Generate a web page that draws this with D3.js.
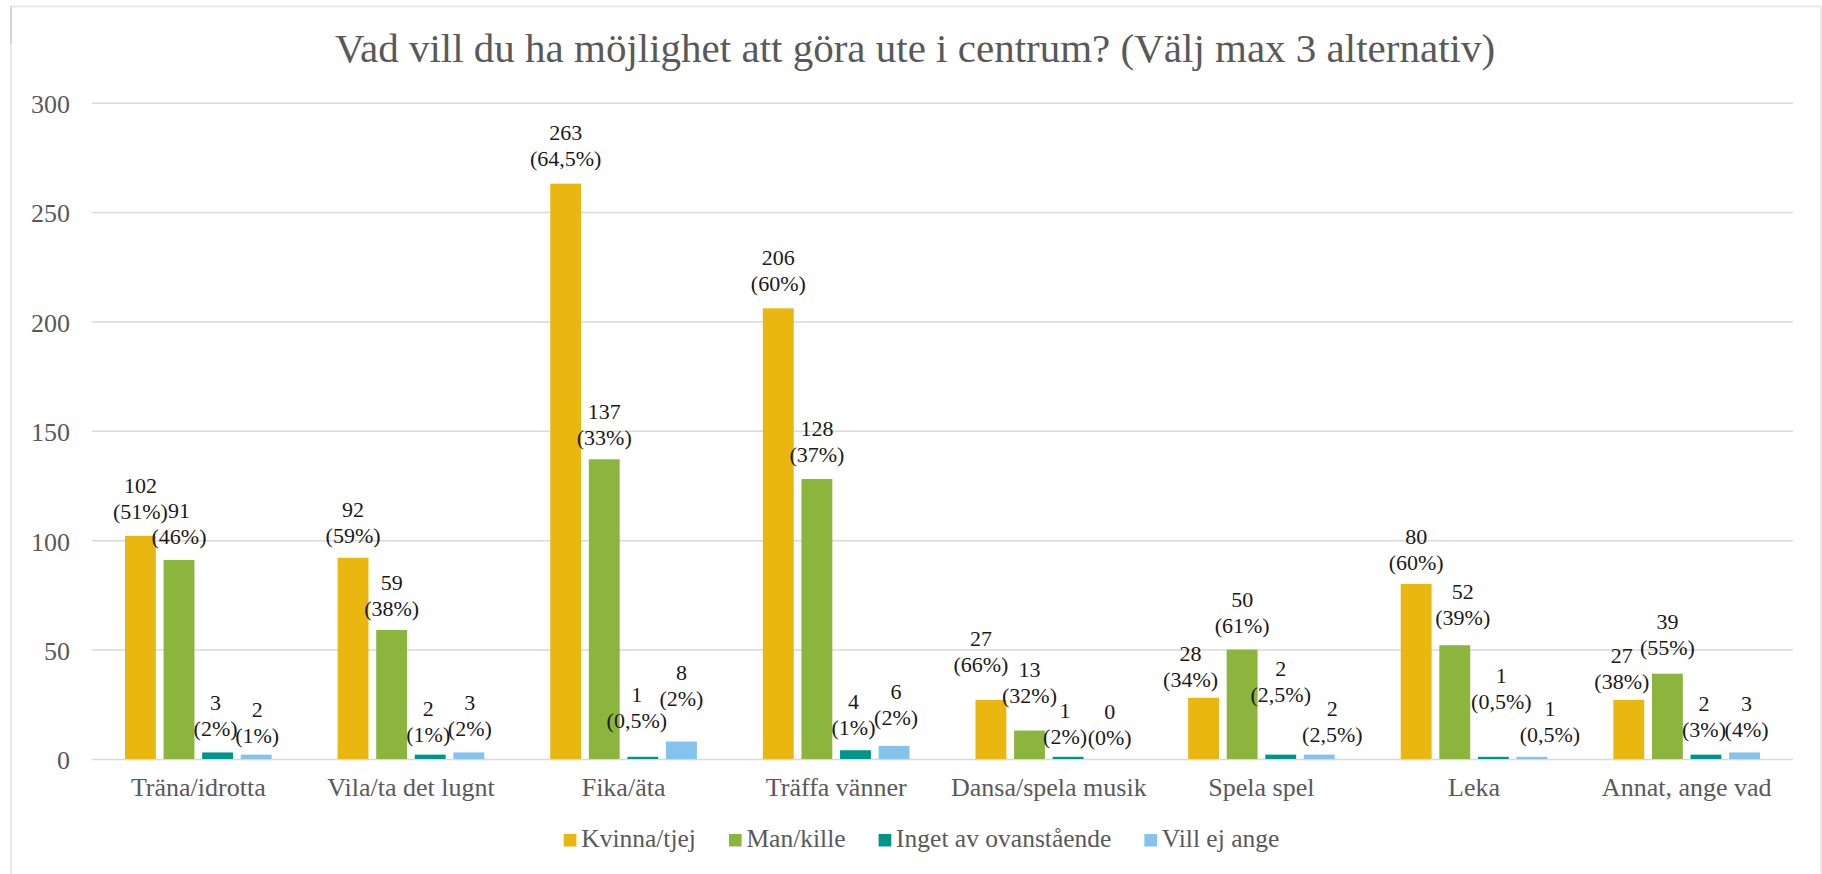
<!DOCTYPE html>
<html>
<head>
<meta charset="utf-8">
<script src="https://cdn.jsdelivr.net/npm/d3@7"></script>
<style>
  body { margin: 0; background: #fff; }
  svg { display: block; font-family: "Liberation Serif", "Times New Roman", serif; }
</style>
</head>
<body>
<div id="chart"></div>
<script>
const title = "Vad vill du ha möjlighet att göra ute i centrum? (Välj max 3 alternativ)";
const categories = ["Träna/idrotta", "Vila/ta det lugnt", "Fika/äta", "Träffa vänner",
  "Dansa/spela musik", "Spela spel", "Leka", "Annat, ange vad"];
const seriesNames = ["Kvinna/tjej", "Man/kille", "Inget av ovanstående", "Vill ej ange"];
const kvinna = [102, 92, 263, 206, 27, 28, 80, 27];
const man = [91, 59, 137, 128, 13, 50, 52, 39];
const inget = [3, 2, 1, 4, 1, 2, 1, 2];
const villEj = [2, 3, 8, 6, 0, 2, 1, 3];
const kvinnaPct = ["51%", "59%", "64,5%", "60%", "66%", "34%", "60%", "38%"];
const manPct = ["46%", "38%", "33%", "37%", "32%", "61%", "39%", "55%"];
const ingetPct = ["2%", "1%", "0,5%", "1%", "2%", "2,5%", "0,5%", "3%"];
const villEjPct = ["1%", "2%", "2%", "2%", "0%", "2,5%", "0,5%", "4%"];
const yTicks = [0, 50, 100, 150, 200, 250, 300];

const colors = ["#EAB711", "#8BB53C", "#00958A", "#84C3EE"];

// hand moved data labels in the original, [dx, dy] per series / category
const labelNudge = [
  [[0, -2], [0, 0], [0, -3], [0, -3], [-10, -13], [-13, 4], [0, 1], [-7, 4]],
  [[0, -1], [0, 1], [0, 0], [0, -2], [0, -13], [0, -2], [8, -6], [0, -4]],
  [[-2, -2], [-2, 2], [-6, -14], [-2, -1], [-3, 2], [0, -38], [8, -33], [-2, -3]],
  [[1, 3], [1, -2], [0, -21], [2, -6], [3, 0], [13, 2], [18, 0], [2, -1]]
];

const values = [kvinna, man, inget, villEj];
const pcts = [kvinnaPct, manPct, ingetPct, villEjPct];

const W = 1822, H = 874;
const plotL = 92, plotR = 1793, plotT = 102.7, plotB = 759;

const svg = d3.select("#chart").append("svg").attr("width", W).attr("height", H);

// chart frame
svg.append("rect").attr("x", 11).attr("y", 6.5).attr("width", 1810).attr("height", H)
  .attr("fill", "none").attr("stroke", "#e3e3e3").attr("stroke-width", 1.5);
svg.append("line").attr("x1", 11).attr("x2", 11).attr("y1", 6).attr("y2", 44)
  .attr("stroke", "#d4d4d4").attr("stroke-width", 2);

svg.append("text").attr("x", 915).attr("y", 62).attr("text-anchor", "middle")
  .attr("font-size", 41).attr("fill", "#595959").text(title);

const y = d3.scaleLinear().domain([0, 300]).range([plotB, plotT]);
const x0 = d3.scaleBand().domain(categories).range([plotL, plotR]);
const x1 = d3.scaleBand().domain(seriesNames).range([0, x0.bandwidth()])
  .paddingInner(0.2).paddingOuter(0.855);

const yAxis = d3.axisLeft(y).tickValues(yTicks).tickSize(-(plotR - plotL)).tickPadding(22);
const gy = svg.append("g").attr("transform", `translate(${plotL},0)`).call(yAxis);
gy.select(".domain").remove();
gy.selectAll("line").attr("stroke", "#d9d9d9").attr("stroke-width", 1.5);
gy.selectAll("text").attr("font-family", "Liberation Serif").attr("font-size", 26)
  .attr("fill", "#595959").attr("dy", "0.38em");

const xAxis = d3.axisBottom(x0).tickSize(0).tickPadding(19);
const gx = svg.append("g").attr("transform", `translate(0,${plotB})`).call(xAxis);
gx.select(".domain").remove();
gx.selectAll("text").attr("font-family", "Liberation Serif").attr("font-size", 26)
  .attr("fill", "#595959");

// bars
const groups = svg.selectAll(".grp").data(categories).enter().append("g")
  .attr("class", "grp").attr("transform", d => `translate(${x0(d)},0)`);

seriesNames.forEach((s, si) => {
  groups.append("rect")
    .attr("x", x1(s))
    .attr("y", (d, i) => y(values[si][i]))
    .attr("width", x1.bandwidth())
    .attr("height", (d, i) => plotB - y(values[si][i]))
    .attr("fill", colors[si]);

  const lbl = groups.append("text")
    .attr("text-anchor", "middle")
    .attr("font-size", 22)
    .attr("fill", "#1a1a1a")
    .attr("transform", (d, i) => {
      const n = labelNudge[si][i];
      const cx = x1(s) + x1.bandwidth() / 2 + n[0];
      const base = y(values[si][i]) - 22 + n[1] + 7.5;
      return `translate(${cx},${base})`;
    });
  lbl.append("tspan").attr("x", 0).attr("y", -26).text((d, i) => values[si][i]);
  lbl.append("tspan").attr("x", 0).attr("y", 0).text((d, i) => `(${pcts[si][i]})`);
});

// legend
const legend = svg.append("g");
let lx = 0;
seriesNames.forEach((s, si) => {
  const item = legend.append("g").attr("transform", `translate(${lx},0)`);
  item.append("rect").attr("x", 0).attr("y", -12.5).attr("width", 12.7).attr("height", 12.5)
    .attr("fill", colors[si]);
  const t = item.append("text").attr("x", 17.5).attr("y", 0).attr("font-size", 25.5)
    .attr("fill", "#595959").text(s);
  lx += 17.5 + t.node().getComputedTextLength() + 33;
});
const legendW = lx - 33;
legend.attr("transform", `translate(${921.5 - legendW / 2},846.5)`);
</script>
</body>
</html>
